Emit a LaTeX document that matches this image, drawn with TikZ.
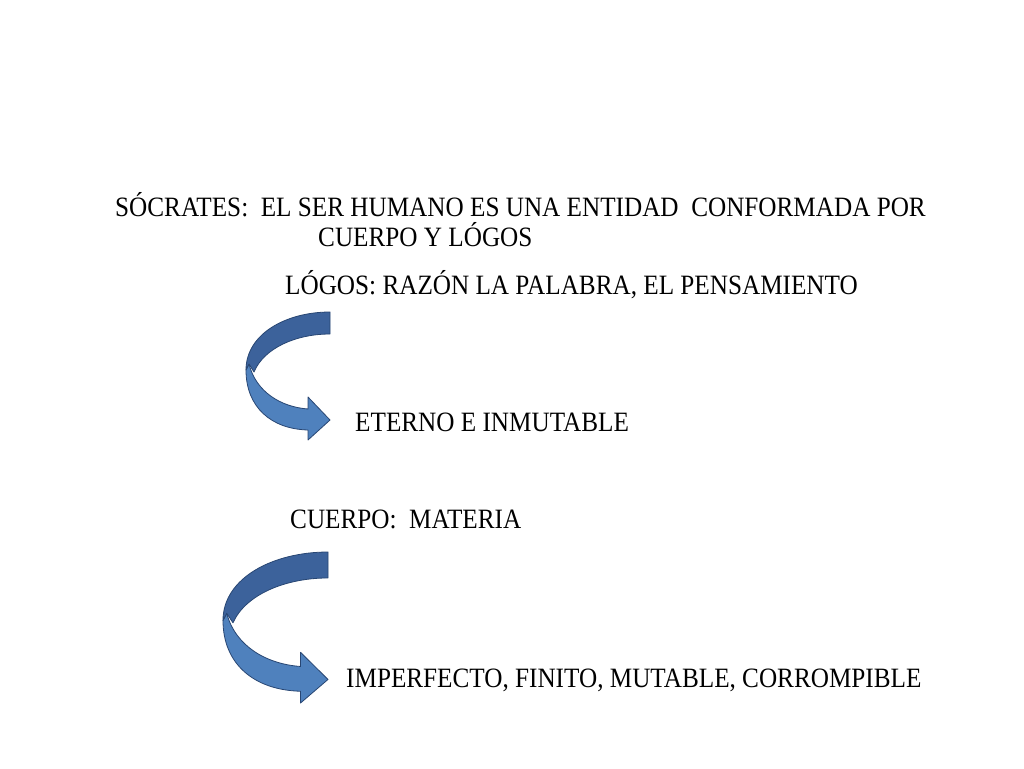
\documentclass[tikz,border=0pt]{standalone}
\usepackage{fontspec}
\setmainfont[FakeStretch=0.9]{Liberation Serif}
\definecolor{darkface}{RGB}{60,98,155}
\definecolor{lightface}{RGB}{79,129,189}
\definecolor{edge}{RGB}{40,70,115}
\tikzset{
  txt/.style={anchor=base west, inner sep=0pt, font=\fontsize{28}{32}\selectfont},
  dface/.style={fill=darkface, draw=edge, line width=0.8pt, line join=round},
  lface/.style={fill=lightface, draw=edge, line width=0.8pt, line join=round}
}
\newcommand{\curvarrow}{%
  % light (front) face with head
  \path[lface] (3,52) .. controls (10,80) and (35,95) .. (62,97)
     -- (62,85) -- (84,108) -- (62,128) -- (62,118)
     .. controls (25,117) and (0,95) .. (0,58) -- cycle;
  % dark (back) face
  \path[dface] (84,0) .. controls (40,0) and (0,22) .. (0,58)
     -- (3,52) -- (8,60) .. controls (18,36) and (50,22) .. (84,22) -- cycle;
}
\begin{document}
\begin{tikzpicture}[x=1pt,y=-1pt]
\useasboundingbox[fill=white] (0,0) rectangle (1024,768);
\node[txt] (t1) at (115,216) {SÓCRATES:\ \ EL SER HUMANO ES UNA ENTIDAD\ \ CONFORMADA POR};
\node[txt] (t2) at (318,246) {CUERPO Y LÓGOS};
\node[txt] (t3) at (285,294) {LÓGOS: RAZÓN LA PALABRA, EL PENSAMIENTO};
\node[txt] (t4) at (355,431) {ETERNO E INMUTABLE};
\node[txt] (t5) at (290,528) {CUERPO:\ \ MATERIA};
\node[txt] (t6) at (346,687) {IMPERFECTO, FINITO, MUTABLE, CORROMPIBLE};
\begin{scope}[shift={(246,312)}]
  \curvarrow
\end{scope}
\begin{scope}[shift={(223,552)}, xscale=1.25, yscale=1.18]
  \curvarrow
\end{scope}
\end{tikzpicture}
\end{document}
